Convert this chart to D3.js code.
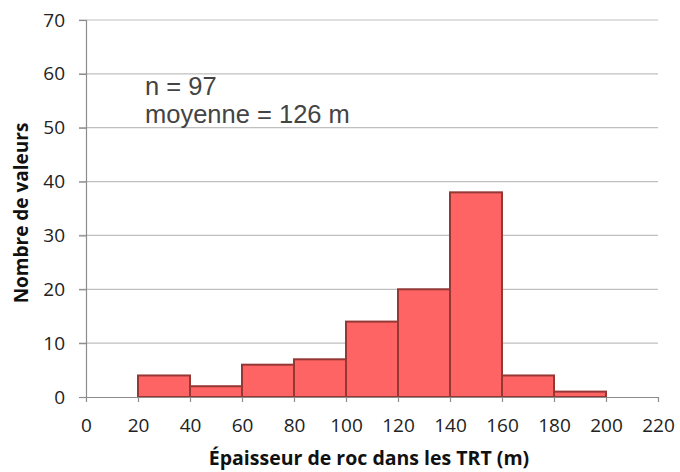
<!DOCTYPE html>
<html>
<head>
<meta charset="utf-8">
<script src="https://cdn.jsdelivr.net/npm/d3@7"></script>
<style>
  body { margin: 0; background: #fff; }
  svg { display: block; }
</style>
</head>
<body>
<svg id="histo"></svg>
<script>
const binStarts = [20, 40, 60, 80, 100, 120, 140, 160, 180];
const binWidth = 20;
const counts = [4, 2, 6, 7, 14, 20, 38, 4, 1];
const xTicks = [0, 20, 40, 60, 80, 100, 120, 140, 160, 180, 200, 220];
const yTicks = [0, 10, 20, 30, 40, 50, 60, 70];
const notes = ["n = 97", "moyenne = 126 m"];

const W = 680, H = 472;
const margin = { top: 20, right: 22, bottom: 75, left: 86 },
      width = W - margin.left - margin.right,
      height = H - margin.top - margin.bottom;

const root = d3.select("#histo").attr("width", W).attr("height", H);
const svg = root.append("g")
  .attr("transform", `translate(${margin.left},${margin.top})`);

const x = d3.scaleLinear().domain([0, 220]).range([0, width]);
const y = d3.scaleLinear().domain([0, 70]).range([height, 0]);

// gridlines
svg.append("g")
  .selectAll("line")
  .data(yTicks.filter(d => d > 0))
  .join("line")
  .attr("x1", -7).attr("x2", width)
  .attr("y1", d => y(d)).attr("y2", d => y(d))
  .attr("stroke", "#bfbfbf").attr("stroke-width", 1.2);

// y axis
const yAxis = svg.append("g")
  .call(d3.axisLeft(y).tickValues(yTicks).tickSize(7).tickPadding(14));
yAxis.select(".domain").attr("stroke", "#8c8c8c").attr("stroke-width", 1.2);
yAxis.selectAll(".tick line").attr("stroke", "#8c8c8c").attr("stroke-width", 1.2);
yAxis.selectAll("text")
  .attr("font-family", "Open Sans, sans-serif")
  .attr("font-size", 19).attr("fill", "#222");

// bars
svg.append("g")
  .selectAll("rect")
  .data(binStarts.map((s, i) => ({ s, v: counts[i] })))
  .join("rect")
  .attr("x", d => x(d.s))
  .attr("width", d => x(d.s + binWidth) - x(d.s))
  .attr("y", d => y(d.v))
  .attr("height", d => y(0) - y(d.v))
  .attr("fill", "#ff6464")
  .attr("stroke", "#953735")
  .attr("stroke-width", 2);

// x axis
const xAxis = svg.append("g")
  .attr("transform", `translate(0,${height})`)
  .call(d3.axisBottom(x).tickValues(xTicks).tickSize(5).tickPadding(17).tickSizeOuter(0));
xAxis.select(".domain").attr("stroke", "#8c8c8c").attr("stroke-width", 1.2);
xAxis.selectAll(".tick line").attr("stroke", "#8c8c8c").attr("stroke-width", 1.2);
xAxis.selectAll("text")
  .attr("font-family", "Open Sans, sans-serif")
  .attr("font-size", 19).attr("fill", "#222");

// axis titles
root.append("text")
  .attr("x", 369)
  .attr("y", 465)
  .attr("text-anchor", "middle")
  .attr("font-family", "Open Sans, sans-serif")
  .attr("font-weight", "bold")
  .attr("font-size", 19.5)
  .attr("fill", "#111")
  .text("Épaisseur de roc dans les TRT (m)");

root.append("text")
  .attr("transform", `translate(28,213) rotate(-90)`)
  .attr("text-anchor", "middle")
  .attr("font-family", "Open Sans, sans-serif")
  .attr("font-weight", "bold")
  .attr("font-size", 19)
  .attr("fill", "#111")
  .text("Nombre de valeurs");

// annotation
svg.append("g")
  .selectAll("text")
  .data(notes)
  .join("text")
  .attr("x", 59)
  .attr("y", (d, i) => 75 + i * 28)
  .attr("font-family", "Liberation Sans, Arial, sans-serif")
  .attr("font-size", 25.5)
  .attr("fill", "#444")
  .text(d => d);
</script>
</body>
</html>
